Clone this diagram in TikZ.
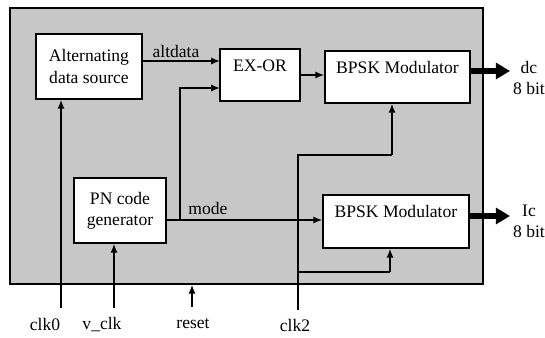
\documentclass[tikz,border=0pt]{standalone}
\usepackage{fontspec}
\setmainfont{Liberation Serif}
\usetikzlibrary{arrows.meta}
\begin{document}
\begin{tikzpicture}[x=0.02cm, y=-0.02cm,
    blk/.style={draw, line width=1pt, fill=white, align=center},
    modbox/.style={blk, text height=0.25cm, text depth=0.4cm},
    sig/.style={line width=0.8pt, -{Latex[length=5pt,width=4pt]}},
    wire/.style={line width=0.8pt},
    bus/.style={line width=3pt, -{Triangle[length=8pt,width=9pt]}},
    lbl/.style={inner sep=1pt, align=center}]
    \useasboundingbox (0,0) rectangle (545,338);

    % shaded chip area
    \node[draw, line width=1pt, fill=black!22, minimum width=9.46cm, minimum height=5.52cm, inner sep=0pt] (chip) at (246.5,146) {};

    % blocks
    \node[blk, minimum width=2.12cm, minimum height=1.30cm] (alt) at (89,66.5) {Alternating\\data source};
    \node[modbox, minimum width=1.60cm, minimum height=1.04cm] (exor) at (260,75) {EX-OR};
    \node[modbox, minimum width=2.90cm, minimum height=1.04cm] (bpskA) at (397.5,77) {BPSK Modulator};
    \node[blk, minimum width=1.84cm, minimum height=1.30cm] (pn) at (120,210.5) {PN code\\generator};
    \node[modbox, minimum width=2.92cm, minimum height=1.06cm] (bpskB) at (396,221.5) {BPSK Modulator};

    % EX-OR inputs and mode branch
    \coordinate (inA) at (220,61);
    \coordinate (inB) at (220,88);
    \coordinate (mj) at (180,220);
    \draw[sig] (alt.east |- inA) -- (inA);
    \draw[sig] (pn.east |- mj) -- (bpskB.west |- mj);
    \draw[sig] (mj) |- (inB);
    \draw[sig] (exor.east) -- (exor.east -| bpskA.west);

    % outputs
    \coordinate (outA) at (510,71);
    \coordinate (outB) at (510,216);
    \draw[bus] (bpskA.east |- outA) -- (outA);
    \draw[bus] (bpskB.east |- outB) -- (outB);

    % clock and reset inputs
    \coordinate (c0) at (61,308);
    \coordinate (vc) at (114,308);
    \coordinate (rs) at (192,307);
    \coordinate (c2) at (298,310);
    \coordinate (c2a) at (392,155);
    \coordinate (c2b) at (390,272);
    \draw[sig] (c0) -- (c0 |- alt.south);
    \draw[sig] (vc) -- (vc |- pn.south);
    \draw[sig] (rs) -- (rs |- chip.south);
    \draw[wire] (c2) -- (c2 |- c2a) -- (c2a);
    \draw[sig] (c2a) -- (c2a |- bpskA.south);
    \draw[wire] (c2 |- c2b) -- (c2b);
    \draw[sig] (c2b) -- (c2b |- bpskB.south);

    % labels
    \node[lbl] (laltdata) at (176,51) {altdata};
    \node[lbl] (lmode) at (208,208) {mode};
    \node[lbl] (ldc) at (529,78) {dc\\8 bit};
    \node[lbl] (lic) at (529,221) {Ic\\8 bit};
    \node[lbl] (lclk0) at (45,324) {clk0};
    \node[lbl] (lvclk) at (102,325) {v\_clk};
    \node[lbl] (lreset) at (193,324) {reset};
    \node[lbl] (lclk2) at (295,325) {clk2};
\end{tikzpicture}
\end{document}
